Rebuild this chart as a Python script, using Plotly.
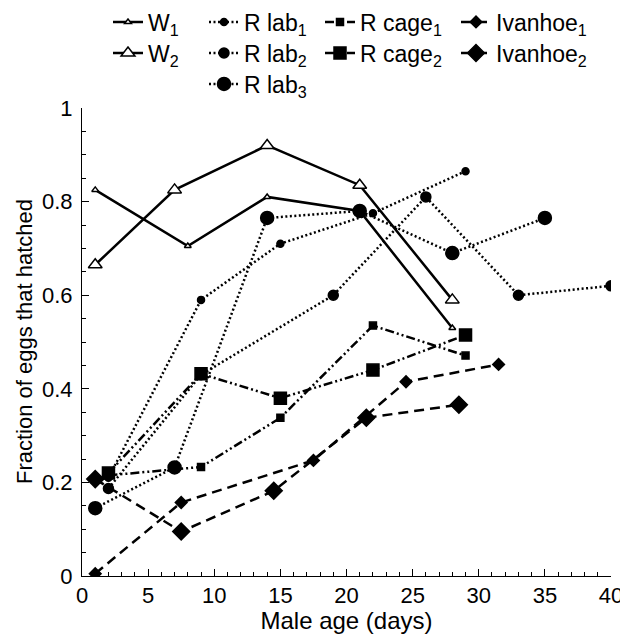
import plotly.graph_objects as go

# ---- data (male age in days, fraction of eggs hatched) ----
w1_x = [1, 8, 14, 21, 28]
w1_y = [0.825, 0.705, 0.81, 0.78, 0.53]
w2_x = [1, 7, 14, 21, 28]
w2_y = [0.665, 0.825, 0.92, 0.835, 0.59]
rlab1_x = [2, 9, 15, 22, 29]
rlab1_y = [0.21, 0.59, 0.71, 0.775, 0.865]
rlab2_x = [2, 9, 19, 26, 33, 40]
rlab2_y = [0.187, 0.43, 0.60, 0.81, 0.60, 0.62]
rlab3_x = [1, 7, 14, 21, 28, 35]
rlab3_y = [0.145, 0.232, 0.765, 0.78, 0.69, 0.765]
rcage1_x = [2, 9, 15, 22, 29]
rcage1_y = [0.215, 0.233, 0.338, 0.535, 0.471]
rcage2_x = [2, 9, 15, 22, 29]
rcage2_y = [0.22, 0.432, 0.38, 0.44, 0.515]
ivan1_x = [1, 7.5, 17.5, 24.5, 31.5]
ivan1_y = [0.005, 0.157, 0.247, 0.415, 0.452]
ivan2_x = [1, 7.5, 14.5, 21.5, 28.5]
ivan2_y = [0.207, 0.095, 0.182, 0.338, 0.366]

x_tick_step = 5
y_tick_step = 0.2

FONT = "Liberation Sans, Arial, Helvetica, sans-serif"
DOT = "2px,2.5px"
CAGE = "9px,3px,2px,3px,2px,3px"
IVAN = "10px,6px"

# name, x, y, dash, marker symbol, marker size, fill, legend column, legend row
series = [
    ("W<sub>1</sub>", w1_x, w1_y, "solid", "triangle-up", 6, "white", 0, 0),
    ("W<sub>2</sub>", w2_x, w2_y, "solid", "triangle-up", 12, "white", 0, 1),
    ("R lab<sub>1</sub>", rlab1_x, rlab1_y, DOT, "circle", 7, "black", 1, 0),
    ("R lab<sub>2</sub>", rlab2_x, rlab2_y, DOT, "circle", 10, "black", 1, 1),
    ("R lab<sub>3</sub>", rlab3_x, rlab3_y, DOT, "circle", 13, "black", 1, 2),
    ("R cage<sub>1</sub>", rcage1_x, rcage1_y, CAGE, "square", 7, "black", 2, 0),
    ("R cage<sub>2</sub>", rcage2_x, rcage2_y, CAGE, "square", 12, "black", 2, 1),
    ("Ivanhoe<sub>1</sub>", ivan1_x, ivan1_y, IVAN, "diamond", 9, "black", 3, 0),
    ("Ivanhoe<sub>2</sub>", ivan2_x, ivan2_y, IVAN, "diamond", 13, "black", 3, 1),
]

# the page adds an 8px body margin, so the figure is 8px smaller and margins are shifted
W, H = 620, 626
ML, MR, MT, MB = 74, 17, 100, 58
PW = W - ML - MR
PH = H - MT - MB

col_px = [108, 204, 320, 456]   # window px of legend box left
row_px = [22, 53, 84]           # window px of legend row centre

def lx(px):
    return (px - 8 - ML) / PW

def ly(py):
    return 1 + (MT - (py - 8)) / PH

fig = go.Figure()
layout_legends = {}
for i, (name, xs, ys, dash, sym, size, fill, col, row) in enumerate(series):
    key = "legend" if i == 0 else f"legend{i + 1}"
    fig.add_trace(go.Scatter(
        x=xs, y=ys, name=name, mode="lines+markers",
        line=dict(color="black", width=2.5, dash=dash),
        marker=dict(symbol=sym, size=size, color=fill,
                    line=dict(color="black", width=1.5)),
        legend=key,
    ))
    layout_legends[key] = dict(
        x=lx(col_px[col]), y=ly(row_px[row]),
        xanchor="left", yanchor="middle", orientation="v",
        font=dict(family=FONT, size=23, color="black"),
        bgcolor="rgba(0,0,0,0)", borderwidth=0,
    )

fig.update_layout(**layout_legends)

fig.update_layout(
    width=W, height=H,
    margin=dict(l=ML, r=MR, t=MT, b=MB, autoexpand=False),
    paper_bgcolor="white", plot_bgcolor="white",
    font=dict(family=FONT, size=22, color="black"),
    showlegend=True,
    annotations=[dict(
        text="Fraction of eggs that hatched", textangle=-90,
        xref="paper", yref="paper", x=(24 - 8 - ML) / PW, y=0.5,
        xanchor="center", yanchor="middle", showarrow=False,
        font=dict(family=FONT, size=22, color="black"),
    )],
)
fig.update_xaxes(
    range=[0, 40], tick0=0, dtick=x_tick_step, showgrid=False, zeroline=False,
    showline=True, linecolor="black", linewidth=1,
    ticks="inside", ticklen=7, tickcolor="black",
    minor=dict(dtick=1, ticks="inside", ticklen=4, tickcolor="black", showgrid=False),
    tickfont=dict(size=22), title=dict(text="Male age (days)", font=dict(size=24), standoff=0),
)
fig.update_yaxes(
    range=[0, 1], tick0=0, dtick=y_tick_step,
    showgrid=False, zeroline=False,
    showline=True, linecolor="black", linewidth=1,
    ticks="inside", ticklen=7, tickcolor="black", ticklabelstandoff=4,
    minor=dict(dtick=0.05, ticks="inside", ticklen=4, tickcolor="black", showgrid=False),
    tickfont=dict(size=22),
)

fig.write_html("out.html")
